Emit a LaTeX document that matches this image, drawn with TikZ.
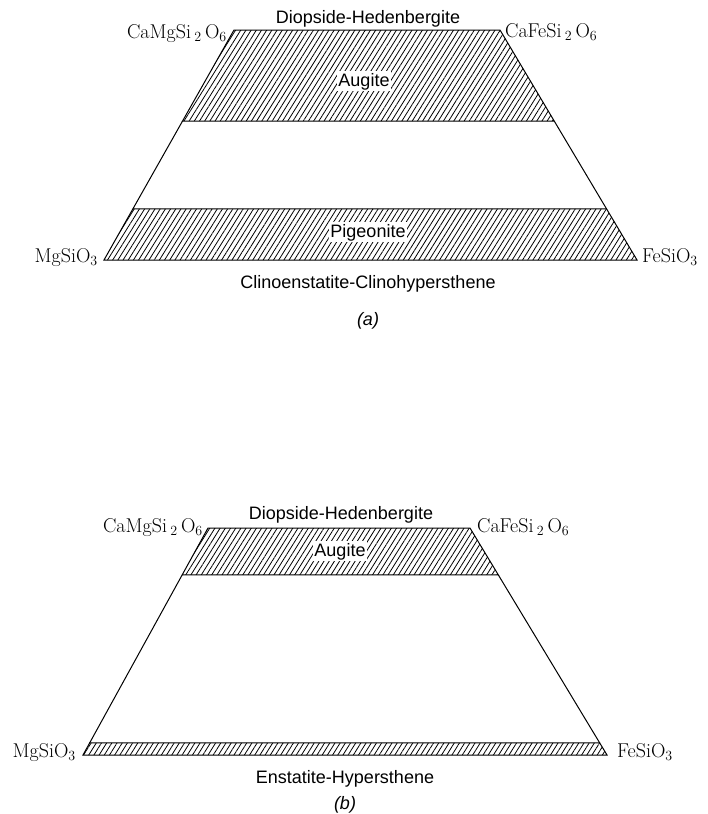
\documentclass[tikz,border=0pt]{standalone}
\usepackage{fontspec}
\newfontfamily\labelfont{Liberation Sans}
\usetikzlibrary{patterns.meta, calc}

\newcommand{\sub}[1]{\,\textsubscript{#1}\,}

\tikzset{
    hatch/.style={pattern={Lines[angle=58, distance=4.4pt, line width=0.8pt]}},
    outline/.style={line width=1pt, line join=miter},
    phase/.style={font=\labelfont\fontsize{18}{20}\selectfont, fill=white, inner sep=1.5pt},
    series/.style={font=\labelfont\fontsize{18}{20}\selectfont, inner sep=0pt},
    formula/.style={font=\fontsize{20}{22}\selectfont, inner sep=0pt},
}

\begin{document}
\begin{tikzpicture}[x=1pt, y=-1pt]
    \useasboundingbox (0,0) rectangle (708,814);

    % (a) corners
    \coordinate (a-tl) at (234,30);
    \coordinate (a-tr) at (500,30);
    \coordinate (a-br) at (637,260);
    \coordinate (a-bl) at (104,260);
    \coordinate (a-augl) at ($(a-tl)!0.396!(a-bl)$);
    \coordinate (a-augr) at ($(a-tr)!0.396!(a-br)$);
    \coordinate (a-pigl) at ($(a-tl)!0.778!(a-bl)$);
    \coordinate (a-pigr) at ($(a-tr)!0.778!(a-br)$);

    \draw[outline, hatch] (a-tl) -- (a-tr) -- (a-augr) -- (a-augl) -- cycle;
    \draw[outline, hatch] (a-pigl) -- (a-pigr) -- (a-br) -- (a-bl) -- cycle;
    \draw[outline] (a-augl) -- (a-pigl);
    \draw[outline] (a-augr) -- (a-pigr);

    \node[series, anchor=base] (a-dh) at (368,23) {Diopside-Hedenbergite};
    \node[formula, anchor=base east] (a-camg) at (227,38) {CaMgSi\sub{2}O\textsubscript{6}};
    \node[formula, anchor=base west] (a-cafe) at (505,37) {CaFeSi\sub{2}O\textsubscript{6}};
    \node[phase, anchor=base] (a-aug) at (364,86) {Augite};
    \node[phase, anchor=base] (a-pig) at (368,237) {Pigeonite};
    \node[formula, anchor=base east] (a-mg) at (98,262) {MgSiO\textsubscript{3}};
    \node[formula, anchor=base west] (a-fe) at (642,262) {FeSiO\textsubscript{3}};
    \node[series, anchor=base] (a-cc) at (368,288) {Clinoenstatite-Clinohypersthene};
    \node[series, anchor=base, font=\labelfont\itshape\fontsize{18}{20}\selectfont] (a-cap) at (368,325) {(a)};

    % (b) corners
    \coordinate (b-tl) at (208,528);
    \coordinate (b-tr) at (470,528);
    \coordinate (b-br) at (607,755);
    \coordinate (b-bl) at (83,755);
    \coordinate (b-augl) at ($(b-tl)!0.207!(b-bl)$);
    \coordinate (b-augr) at ($(b-tr)!0.207!(b-br)$);
    \coordinate (b-enl) at ($(b-tl)!0.947!(b-bl)$);
    \coordinate (b-enr) at ($(b-tr)!0.947!(b-br)$);

    \draw[outline, hatch] (b-tl) -- (b-tr) -- (b-augr) -- (b-augl) -- cycle;
    \draw[outline, hatch] (b-enl) -- (b-enr) -- (b-br) -- (b-bl) -- cycle;
    \draw[outline] (b-augl) -- (b-enl);
    \draw[outline] (b-augr) -- (b-enr);

    \node[series, anchor=base] (b-dh) at (341,519) {Diopside-Hedenbergite};
    \node[formula, anchor=base east] (b-camg) at (203,532) {CaMgSi\sub{2}O\textsubscript{6}};
    \node[formula, anchor=base west] (b-cafe) at (477,532) {CaFeSi\sub{2}O\textsubscript{6}};
    \node[phase, anchor=base] (b-aug) at (340,556) {Augite};
    \node[formula, anchor=base east] (b-mg) at (76,757) {MgSiO\textsubscript{3}};
    \node[formula, anchor=base west] (b-fe) at (617,757) {FeSiO\textsubscript{3}};
    \node[series, anchor=base] (b-eh) at (345,783) {Enstatite-Hypersthene};
    \node[series, anchor=base, font=\labelfont\itshape\fontsize{18}{20}\selectfont] (b-cap) at (345,809) {(b)};
\end{tikzpicture}
\end{document}
